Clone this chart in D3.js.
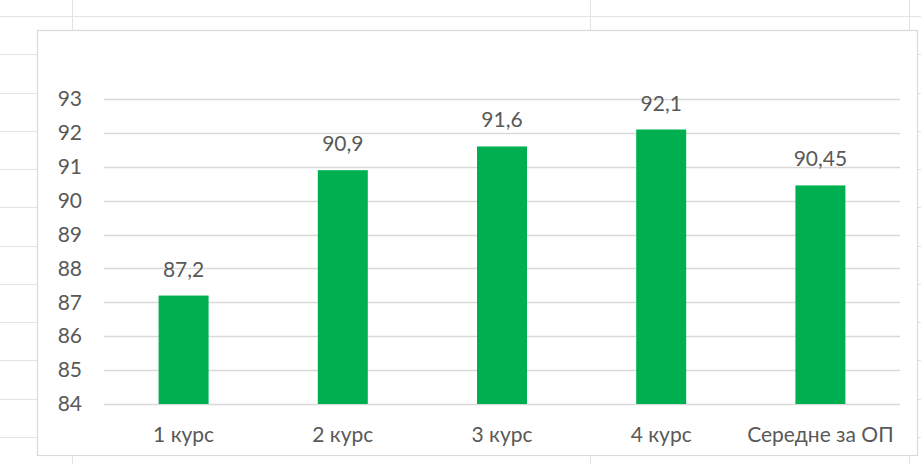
<!DOCTYPE html>
<html>
<head>
<meta charset="utf-8">
<script src="https://cdn.jsdelivr.net/npm/d3@7"></script>
<style>
  html, body { margin: 0; padding: 0; background: #fff; }
  svg { display: block; }
  text { font-family: Lato, "Open Sans", sans-serif; fill: #595959; }
</style>
</head>
<body>
<svg id="chart" width="921" height="464"></svg>
<script>
const categories = ["1 курс", "2 курс", "3 курс", "4 курс", "Середне за ОП"];
const values = [87.2, 90.9, 91.6, 92.1, 90.45];
const valueLabels = ["87,2", "90,9", "91,6", "92,1", "90,45"];
const yTicks = [84, 85, 86, 87, 88, 89, 90, 91, 92, 93];
const sheetRows = [16, 54, 93, 131, 169, 207, 246, 284, 322, 360, 399, 437];
const sheetCols = [72, 590, 909];

const svg = d3.select("#chart");
const W = 921, H = 464;

// spreadsheet background grid
const bg = svg.append("g");
bg.selectAll("line.r").data(sheetRows).join("line")
  .attr("x1", 0).attr("x2", W).attr("y1", d => d + 0.5).attr("y2", d => d + 0.5)
  .attr("stroke", "#e3e3e3").attr("stroke-width", 1);
bg.selectAll("line.c").data(sheetCols).join("line")
  .attr("x1", d => d + 0.5).attr("x2", d => d + 0.5).attr("y1", 0).attr("y2", H)
  .attr("stroke", "#e3e3e3").attr("stroke-width", 1);

// chart area
svg.append("rect")
  .attr("x", 37.5).attr("y", 30.5).attr("width", 880).attr("height", 425)
  .attr("fill", "#fff").attr("stroke", "#d9d9d9").attr("stroke-width", 1.2);

const plot = { left: 104, right: 900, top: 99, bottom: 404 };

const x = d3.scaleBand().domain(categories).range([plot.left, plot.right]).paddingInner(0.686).paddingOuter(0.343);
const y = d3.scaleLinear().domain([84, 93]).range([plot.bottom, plot.top]);

// gridlines
svg.append("g").selectAll("line").data(yTicks).join("line")
  .attr("x1", plot.left).attr("x2", plot.right)
  .attr("y1", d => Math.round(y(d)) + 0.5).attr("y2", d => Math.round(y(d)) + 0.5)
  .attr("stroke", "#d9d9d9").attr("stroke-width", 1.3);

// y axis labels
const yAxis = d3.axisLeft(y).tickValues(yTicks).tickSize(0).tickPadding(0).tickFormat(d3.format("d"));
const ya = svg.append("g").attr("transform", `translate(${plot.left - 22},0)`).call(yAxis);
ya.select(".domain").remove();
ya.selectAll("text").attr("font-size", 21).attr("fill", "#595959")
  .style("font-family", "Lato, 'Open Sans', sans-serif");

// bars
svg.append("g").selectAll("rect").data(values).join("rect")
  .attr("x", (d, i) => x(categories[i]))
  .attr("width", x.bandwidth())
  .attr("y", d => y(d))
  .attr("height", d => y(84) - y(d))
  .attr("fill", "#00b050");

// value labels
svg.append("g").selectAll("text").data(values).join("text")
  .attr("x", (d, i) => x(categories[i]) + x.bandwidth() / 2)
  .attr("y", d => y(d) - 19)
  .attr("text-anchor", "middle")
  .attr("font-size", 21)
  .text((d, i) => valueLabels[i]);

// x axis labels
const xAxis = d3.axisBottom(x).tickSize(0).tickPadding(0);
const xa = svg.append("g").attr("transform", `translate(0,${plot.bottom + 23})`).call(xAxis);
xa.select(".domain").remove();
xa.selectAll("text").attr("font-size", 21).attr("fill", "#595959")
  .style("font-family", "Lato, 'Open Sans', sans-serif");
</script>
</body>
</html>
